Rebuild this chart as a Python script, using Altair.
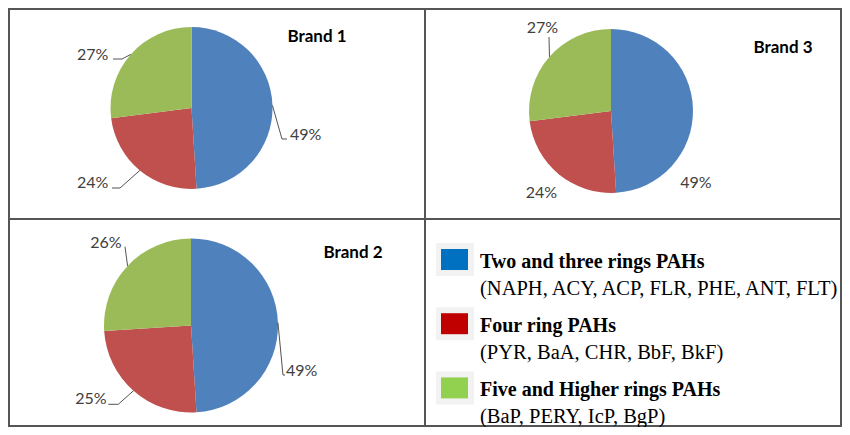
import math
import altair as alt
import pandas as pd

# ---------------- data ----------------
GROUPS = ["Two and three rings PAHs", "Four ring PAHs", "Five and Higher rings PAHs"]
GROUP_DETAILS = ["(NAPH, ACY, ACP, FLR, PHE, ANT, FLT)",
                 "(PYR, BaA, CHR, BbF, BkF)",
                 "(BaP, PERY, IcP, BgP)"]
BRANDS = ["Brand 1", "Brand 2", "Brand 3"]
BRAND1 = [49, 24, 27]
BRAND2 = [49, 25, 26]
BRAND3 = [49, 24, 27]
VALUES = {"Brand 1": BRAND1, "Brand 2": BRAND2, "Brand 3": BRAND3}

# ---------------- style / layout ----------------
PIE_COLORS = ["#4F81BD", "#C0504D", "#9BBB59"]
LEGEND_COLORS = ["#0070C0", "#C00000", "#92D050"]
W, H = 834, 419
FRAME_COLOR = "#555555"
LABEL_FONT = "Lato"
LEGEND_FONT = "Liberation Serif"

PIE_LAYOUT = {
    "Brand 1": dict(cx=183.5, cy=100.0, r=81, tx=309, ty=34.3),
    "Brand 2": dict(cx=183.0, cy=317.5, r=87, tx=345, ty=250.3),
    "Brand 3": dict(cx=603.0, cy=103.0, r=82, tx=775, ty=45.3),
}
# elbow offset from pie centre, horizontal tail, text offset, baseline offset, align, leader
LABEL_LAYOUT = {
    ("Brand 1", 0): dict(ex=90.5, ey=31.0, tail=5, dx=3.0, bdy=1.0, align="left", leader=True),
    ("Brand 1", 1): dict(ex=-71.5, ey=80.0, tail=-8, dx=-3.7, bdy=0.3, align="right", leader=True),
    ("Brand 1", 2): dict(ex=-69.5, ey=-49.0, tail=-9, dx=-4.7, bdy=1.0, align="right", leader=True),
    ("Brand 2", 0): dict(ex=92.0, ey=49.5, tail=2, dx=1.0, bdy=0.7, align="left", leader=True),
    ("Brand 2", 1): dict(ex=-72.7, ey=78.8, tail=-10, dx=-1.6, bdy=0.0, align="right", leader=True),
    ("Brand 2", 2): dict(ex=-66.0, ey=-78.8, tail=0, dx=-3.3, bdy=1.6, align="right", leader=True),
    ("Brand 3", 0): dict(ex=85.0, ey=77.0, tail=0, dx=0.0, bdy=0.0, align="center", leader=False),
    ("Brand 3", 1): dict(ex=-69.5, ey=87.0, tail=0, dx=0.0, bdy=0.0, align="center", leader=False),
    ("Brand 3", 2): dict(ex=-62.0, ey=-74.0, tail=0, dx=-6.5, bdy=-4.5, align="center", leader=True),
}

NOAX = dict(scale=None, axis=None)

layers = []

# ---------------- frame ----------------
frame = pd.DataFrame({
    "x": [0, 0, 1, W - 1, 0, W / 2],
    "x2": [W, W, 1, W - 1, W, W / 2],
    "y": [1, H - 1, 0, 0, H / 2 + 1.5, 0],
    "y2": [1, H - 1, H, H, H / 2 + 1.5, H],
})
layers.append(
    alt.Chart(frame).mark_rule(color=FRAME_COLOR, strokeWidth=2).encode(
        x=alt.X("x:Q", **NOAX), x2="x2:Q", y=alt.Y("y:Q", **NOAX), y2="y2:Q")
)

# ---------------- pies ----------------
label_rows, leader_rows, title_rows = [], [], []
for brand in BRANDS:
    vals = VALUES[brand]
    lay = PIE_LAYOUT[brand]
    df = pd.DataFrame({"group": GROUPS, "value": vals, "idx": range(len(vals))})
    layers.append(
        alt.Chart(df).mark_arc(outerRadius=lay["r"], stroke=None).encode(
            theta=alt.Theta("value:Q", stack=True),
            color=alt.Color("group:N", scale=alt.Scale(domain=GROUPS, range=PIE_COLORS), legend=None),
            order=alt.Order("idx:Q"),
            x=alt.value(lay["cx"]),
            y=alt.value(lay["cy"]),
        )
    )
    total = float(sum(vals))
    cum = 0.0
    for i, v in enumerate(vals):
        mid = (cum + v / 2.0) / total * 2 * math.pi
        cum += v
        L = LABEL_LAYOUT[(brand, i)]
        sx = lay["cx"] + lay["r"] * math.sin(mid)
        sy = lay["cy"] - lay["r"] * math.cos(mid)
        ex = lay["cx"] + L["ex"]
        ey = lay["cy"] + L["ey"]
        if L["leader"]:
            leader_rows.append(dict(x=sx, y=sy, x2=ex, y2=ey))
            if L["tail"] != 0:
                leader_rows.append(dict(x=ex, y=ey, x2=ex + L["tail"], y2=ey))
        label_rows.append(dict(x=ex + L["tail"] + L["dx"], y=ey + L["bdy"],
                               text=f"{v}%", align=L["align"]))
    title_rows.append(dict(x=lay["tx"], y=lay["ty"], text=brand))

leaders = pd.DataFrame(leader_rows)
layers.append(
    alt.Chart(leaders).mark_rule(color="#404040", strokeWidth=0.9).encode(
        x=alt.X("x:Q", **NOAX), x2="x2:Q", y=alt.Y("y:Q", **NOAX), y2="y2:Q")
)
labels = pd.DataFrame(label_rows)
for al in ["left", "right", "center"]:
    sub = labels[labels["align"] == al]
    if len(sub) == 0:
        continue
    layers.append(
        alt.Chart(sub).mark_text(align=al, baseline="alphabetic", font=LABEL_FONT,
                                 fontSize=16, color="#404040").encode(
            x=alt.X("x:Q", **NOAX), y=alt.Y("y:Q", **NOAX), text="text:N")
    )
titles = pd.DataFrame(title_rows)
layers.append(
    alt.Chart(titles).mark_text(align="center", baseline="alphabetic", font=LABEL_FONT,
                                fontSize=17, fontWeight="bold", color="#000000").encode(
        x=alt.X("x:Q", **NOAX), y=alt.Y("y:Q", **NOAX), text="text:N")
)

# ---------------- custom legend ----------------
PITCH = 64.2
leg = pd.DataFrame({"group": GROUPS, "detail": GROUP_DETAILS, "idx": range(len(GROUPS))})
leg["bg_x"], leg["bg_x2"] = 428.0, 466.0
leg["bg_y"] = 235.0 + leg["idx"] * PITCH
leg["bg_y2"] = leg["bg_y"] + 33
leg["sw_x"], leg["sw_x2"] = 433.0, 460.0
leg["sw_y"] = 241.0 + leg["idx"] * PITCH
leg["sw_y2"] = leg["sw_y"] + 21
leg["tx"] = 472.0
leg["ty1"] = 259.7 + leg["idx"] * PITCH
leg["ty2"] = 287.0 + leg["idx"] * PITCH

layers.append(
    alt.Chart(leg).mark_rect(color="#F2F2F2").encode(
        x=alt.X("bg_x:Q", **NOAX), x2="bg_x2:Q", y=alt.Y("bg_y:Q", **NOAX), y2="bg_y2:Q")
)
layers.append(
    alt.Chart(leg).mark_rect().encode(
        x=alt.X("sw_x:Q", **NOAX), x2="sw_x2:Q", y=alt.Y("sw_y:Q", **NOAX), y2="sw_y2:Q",
        color=alt.Color("group:N", scale=alt.Scale(domain=GROUPS, range=LEGEND_COLORS), legend=None))
)
layers.append(
    alt.Chart(leg).mark_text(align="left", baseline="alphabetic", font=LEGEND_FONT,
                             fontSize=20, fontWeight="bold", color="#000000").encode(
        x=alt.X("tx:Q", **NOAX), y=alt.Y("ty1:Q", **NOAX), text="group:N")
)
layers.append(
    alt.Chart(leg).mark_text(align="left", baseline="alphabetic", font=LEGEND_FONT,
                             fontSize=20.5, color="#000000").encode(
        x=alt.X("tx:Q", **NOAX), y=alt.Y("ty2:Q", **NOAX), text="detail:N")
)

chart = alt.layer(*layers).resolve_scale(color="independent").properties(
    width=W, height=H, padding=0, autosize=alt.AutoSizeParams(type="none"),
    background="white",
).configure_view(stroke=None)

chart.save("out.html", embed_options={"renderer": "svg", "actions": False})
